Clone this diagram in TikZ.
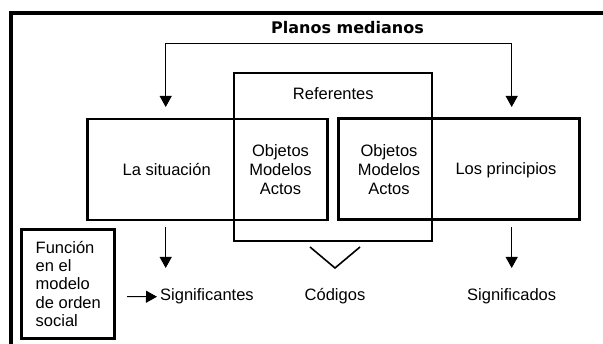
\documentclass[tikz,border=0pt]{standalone}
\usepackage{fontspec}
\setmainfont{Liberation Sans}
\newfontfamily\titlefont{DejaVu Sans}
\usetikzlibrary{arrows.meta}

\begin{document}
\begin{tikzpicture}[x=1pt,y=-1pt,
	every node/.style={inner sep=0pt,font=\fontsize{16.5}{19}\selectfont},
	bigbox/.style={draw,line width=2.7pt,minimum height=101pt},
	refbox/.style={draw,line width=2pt},
	fbox/.style={draw,line width=3pt,align=left,font=\fontsize{16.5}{18.3}\selectfont},
	arr/.style={line width=1pt,-{Triangle[length=11pt,width=12pt]}},
	twoarr/.style={line width=1pt,{Triangle[length=11pt,width=12pt]}-{Triangle[length=11pt,width=12pt]}}]
	\useasboundingbox (0,0) rectangle (603,344);
	% marco
	\draw[line width=4pt] (11,350) |- (610,12.7);
	\node[anchor=base,font=\titlefont\bfseries\fontsize{16}{19}\selectfont] (planos) at (347.5,34) {Planos medianos};
	% cajas
	\node[bigbox,minimum width=240pt] (situbox) at (207.3,169.4) {};
	\node[bigbox,minimum width=241pt] (princbox) at (459,169.2) {};
	\node[refbox,minimum width=198pt,minimum height=167.4pt] (refbox) at (333.3,157) {};
	\node[anchor=base] (ref) at (333.3,100) {Referentes};
	\node[anchor=base] (situ) at (166.7,175.7) {La situación};
	\node[align=center] (obj1) at (280.5,170) {Objetos\\Modelos\\Actos};
	\node[align=center] (obj2) at (389,170) {Objetos\\Modelos\\Actos};
	\node[anchor=base] (princ) at (506,174.5) {Los principios};
	% flechas de arriba
	\coordinate (brL) at (165.7,43.3);
	\coordinate (brR) at (511.7,43.3);
	\coordinate (tipL) at (165.7,107);
	\coordinate (tipR) at (511.7,107);
	\draw[twoarr] (tipL) -- (brL) -- (brR) -- (tipR);
	% flechas de abajo
	\coordinate (dnL) at (165.7,227);
	\coordinate (dnLtip) at (165.7,268);
	\coordinate (dnR) at (511.7,227);
	\coordinate (dnRtip) at (511.7,268);
	\draw[arr] (dnL) -- (dnLtip);
	\draw[arr] (dnR) -- (dnRtip);
	\coordinate (vL) at (310,247);
	\coordinate (vB) at (335,268);
	\coordinate (vR) at (360,247);
	\draw[line width=1.6pt] (vL) -- (vB) -- (vR);
	% abajo
	\node[fbox,minimum width=93.3pt,minimum height=109pt] (func) at (68.3,284) {Función\\en el\\modelo\\de orden\\social};
	\node[anchor=base west] (signif) at (160,301) {Significantes};
	\node[anchor=base] (cod) at (335,301) {Códigos};
	\node[anchor=base] (signdo) at (511.7,301) {Significados};
	\coordinate (fa) at (127,296.7);
	\draw[arr,shorten >=3pt] (fa) -- (signif.west);
\end{tikzpicture}
\end{document}
